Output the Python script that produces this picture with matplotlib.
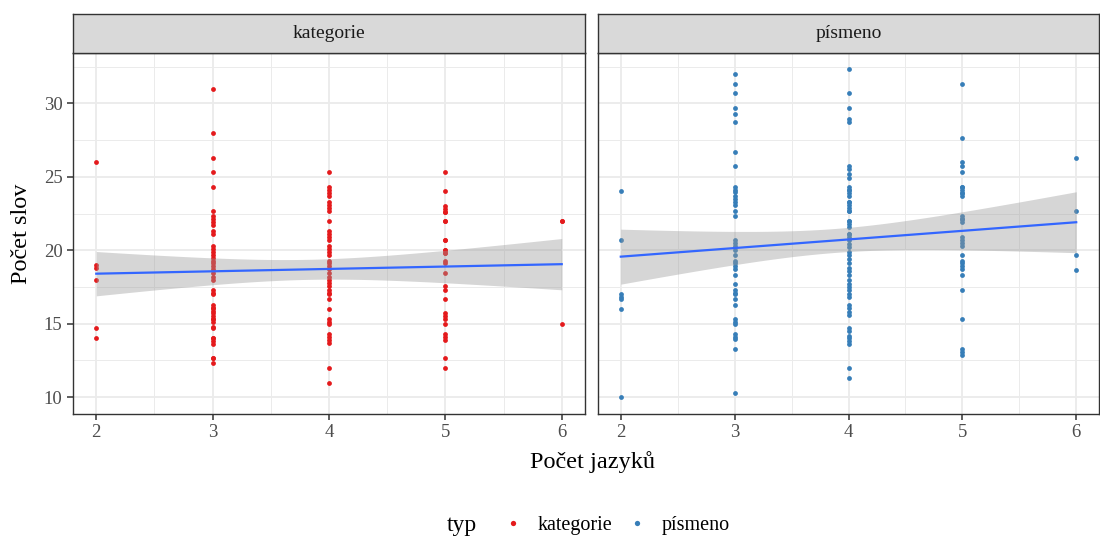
import numpy as np
import matplotlib
matplotlib.use("Agg")
import matplotlib.pyplot as plt
from matplotlib.lines import Line2D

plt.rcParams['font.family'] = ['Liberation Serif', 'DejaVu Serif']

# Počet slov for each number of languages, panel "kategorie"
# (values that sit on top of each other appear more than once)
kat_2 = [26.0, 19.0, 18.8, 18.0, 14.7, 14.0]
kat_3 = [31.0, 28.0, 26.3, 25.3, 24.3, 22.7, 22.3, 22.1, 21.9, 21.7, 21.3, 21.1,
         20.3, 20.1, 19.9, 19.7, 19.5, 19.3, 19.1, 18.9, 18.7, 18.45, 18.2, 18.0,
         17.3, 17.1, 17.0, 16.3, 16.1, 16.1, 15.9, 15.7, 15.5, 15.3, 15.3, 15.1,
         14.8, 14.7, 14.0, 14.0, 13.8, 13.6, 12.7, 12.7, 12.3]
kat_4 = [25.3, 24.3, 24.1, 23.9, 23.7, 23.3, 23.1, 22.9, 22.7, 22.0, 21.3, 21.1,
         20.9, 20.7, 20.3, 20.1, 19.85, 19.7, 19.3, 19.1, 18.9, 18.7, 18.45, 18.2,
         18.0, 17.8, 17.6, 17.3, 17.1, 17.0, 16.7, 16.0, 15.3, 15.15, 14.95, 14.3,
         14.1, 13.9, 13.7, 12.0, 11.0]
kat_5 = [25.3, 24.0, 23.0, 22.8, 22.6, 22.6, 22.0, 22.0, 20.7, 20.7, 20.0, 20.0,
         19.8, 19.8, 19.3, 19.1, 18.45, 17.6, 17.3, 16.7, 15.7, 15.5, 15.3, 14.95,
         14.3, 14.1, 13.9, 12.7, 12.0]
kat_6 = [22.0, 22.0, 15.0]

# Počet slov for each number of languages, panel "písmeno"
pis_2 = [24.0, 20.7, 17.0, 16.85, 16.7, 16.0, 10.0]
pis_3 = [32.0, 31.3, 30.7, 29.7, 29.3, 28.7, 26.7, 25.7, 24.3, 24.1, 23.97, 23.7,
         23.5, 23.3, 23.1, 22.7, 22.3, 20.7, 20.5, 20.3, 20.0, 19.7, 19.3, 19.1,
         18.9, 18.7, 18.3, 17.7, 17.3, 17.1, 17.0, 16.7, 16.3, 15.3, 15.15, 14.95,
         14.3, 14.1, 13.95, 13.3, 10.3]
pis_4 = [32.3, 30.7, 29.7, 28.9, 28.7, 25.7, 25.5, 25.2, 24.9, 24.3, 24.1, 24.1,
         23.9, 23.7, 23.3, 23.3, 23.1, 22.9, 22.7, 22.7, 22.0, 22.0, 21.8, 21.6,
         21.1, 21.1, 20.9, 20.7, 20.4, 20.2, 19.9, 19.65, 19.4, 19.1, 18.8, 18.6,
         18.3, 18.0, 17.7, 17.5, 17.3, 17.0, 16.8, 16.3, 16.1, 15.8, 15.6, 14.7,
         14.5, 14.2, 14.0, 13.8, 13.6, 12.0, 11.3]
pis_5 = [31.3, 27.65, 26.0, 25.7, 25.3, 24.3, 24.3, 24.1, 23.9, 23.9, 23.7, 22.3,
         22.1, 22.1, 21.9, 20.9, 20.7, 20.5, 20.3, 19.7, 19.3, 19.1, 18.9, 18.7,
         18.3, 17.3, 15.3, 13.3, 13.1, 12.9]
pis_6 = [26.25, 22.7, 19.65, 18.65]

languages = [2, 3, 4, 5, 6]
panels = ["kategorie", "písmeno"]
colors = {"kategorie": "#E41A1C", "písmeno": "#377EB8"}
groups = {"kategorie": [kat_2, kat_3, kat_4, kat_5, kat_6],
          "písmeno": [pis_2, pis_3, pis_4, pis_5, pis_6]}


def t975(df):
    # two-sided 95 % Student t quantile via Cornish-Fisher expansion
    z = 1.959964
    g1 = (z**3 + z) / 4
    g2 = (5 * z**5 + 16 * z**3 + 3 * z) / 96
    g3 = (3 * z**7 + 19 * z**5 + 17 * z**3 - 15 * z) / 384
    return z + g1 / df + g2 / df**2 + g3 / df**3


def lm_band(x, y, grid):
    n = len(x)
    b, a = np.polyfit(x, y, 1)
    resid = y - (a + b * x)
    s = np.sqrt(np.sum(resid**2) / (n - 2))
    sxx = np.sum((x - x.mean())**2)
    fit = a + b * grid
    se = s * np.sqrt(1 / n + (grid - x.mean())**2 / sxx)
    t = t975(n - 2)
    return fit, fit - t * se, fit + t * se


W, H = 1100, 540
fig = plt.figure(figsize=(W / 100, H / 100), dpi=100)


def fx(px):
    return px / W


def fy(py):
    return 1 - py / H


panel_px = [(73, 585), (598, 1099)]
top, bottom, strip_top = 53, 414, 14
grey20 = "#333333"

axes = []
for (x0, x1), name in zip(panel_px, panels):
    ax = fig.add_axes([fx(x0), fy(bottom), fx(x1 - x0), (bottom - top) / H])
    axes.append(ax)
    xs = np.concatenate([[k] * len(v) for k, v in zip(languages, groups[name])]).astype(float)
    ys = np.concatenate(groups[name]).astype(float)
    ax.scatter(xs, ys, s=12, color=colors[name], linewidths=0, zorder=3)
    grid = np.linspace(xs.min(), xs.max(), 80)
    fit, lo, hi = lm_band(xs, ys, grid)
    ax.fill_between(grid, lo, hi, color="#999999", alpha=0.4, linewidth=0, zorder=4)
    ax.plot(grid, fit, color="#3366FF", lw=1.6, zorder=5)

    ax.set_xlim(1.8, 6.2)
    ax.set_ylim(8.86, 33.42)
    ax.set_xticks([2, 3, 4, 5, 6])
    ax.set_xticks([2.5, 3.5, 4.5, 5.5], minor=True)
    ax.set_yticks([10, 15, 20, 25, 30])
    ax.set_yticks([12.5, 17.5, 22.5, 27.5, 32.5], minor=True)
    ax.grid(which="major", color="#EBEBEB", lw=1.3, zorder=0)
    ax.grid(which="minor", color="#EBEBEB", lw=0.7, zorder=0)
    ax.set_axisbelow(True)
    for sp in ax.spines.values():
        sp.set_color(grey20)
        sp.set_linewidth(1.0)
    ax.tick_params(which="major", length=4.5, width=1.1, color=grey20,
                   labelsize=13.5, labelcolor="#4D4D4D", pad=3)
    ax.tick_params(which="minor", length=0)

    # facet strip
    sax = fig.add_axes([fx(x0), fy(top), fx(x1 - x0), (top - strip_top) / H])
    sax.set_facecolor("#D9D9D9")
    sax.set_xticks([])
    sax.set_yticks([])
    for sp in sax.spines.values():
        sp.set_color(grey20)
        sp.set_linewidth(1.0)
    sax.text(0.5, 0.5, name, ha="center", va="center", fontsize=14,
             color="#1A1A1A", transform=sax.transAxes)

axes[1].tick_params(axis="y", labelleft=False, length=0)

fig.text(fx(593), fy(462), "Počet jazyků", ha="center", va="center",
         fontsize=17.5, color="#000000")
fig.text(fx(22), fy(234), "Počet slov", ha="center", va="center",
         rotation=90, fontsize=17.5, color="#000000")

# legend
fig.text(fx(447), fy(525), "typ", ha="left", va="center", fontsize=17)
handles = [Line2D([], [], marker="o", ls="", color=colors[n], markersize=3.8,
                  markeredgewidth=0) for n in panels]
fig.legend(handles, panels, loc="center left", bbox_to_anchor=(fx(498), fy(525)),
           ncol=2, frameon=False, fontsize=14.5, handletextpad=0.45,
           columnspacing=0.5, handlelength=1.5, borderaxespad=0, borderpad=0)

fig.savefig("out.png", dpi=100, facecolor="white")
